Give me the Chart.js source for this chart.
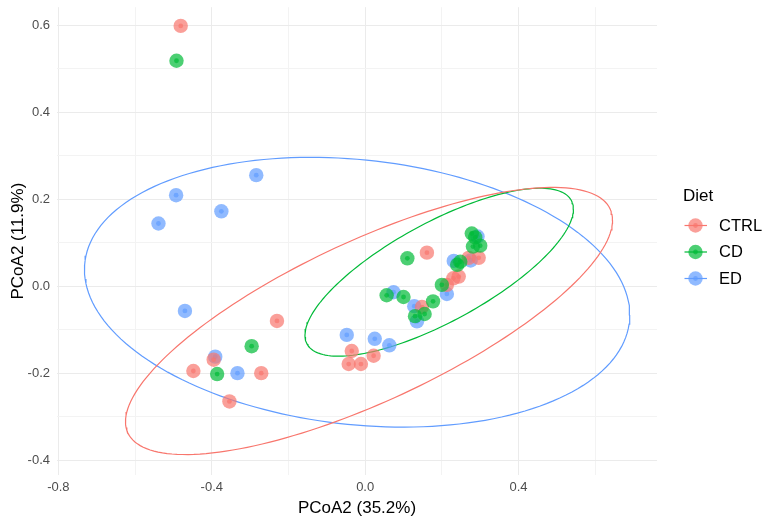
<!DOCTYPE html>
<html><head><meta charset="utf-8">
<script src="https://cdn.jsdelivr.net/npm/chart.js@4.4.0/dist/chart.umd.min.js"></script>
<style>html,body{margin:0;padding:0;background:#fff;}#wrap{width:766px;height:526px;position:relative;}</style>
</head><body><div id="wrap"><canvas id="c"></canvas></div>
<script>
// ---- data ----
const groups = ['CTRL', 'CD', 'ED'];
const groupColors = ['#F8766D', '#00BA38', '#619CFF'];

const ctrlX = [-0.481, -0.230, -0.395, -0.448, -0.271, -0.354, -0.035, -0.043, -0.011, 0.022, 0.161, 0.148, 0.213, 0.230, 0.244, 0.270, 0.296];
const ctrlY = [0.598, -0.080, -0.169, -0.195, -0.200, -0.265, -0.149, -0.179, -0.179, -0.160, 0.077, -0.048, 0.003, 0.018, 0.022, 0.065, 0.065];

const cdX = [-0.492, -0.296, -0.386, 0.056, 0.100, 0.110, 0.130, 0.155, 0.177, 0.200, 0.240, 0.248, 0.278, 0.287, 0.281, 0.300];
const cdY = [0.518, -0.138, -0.202, -0.021, -0.025, 0.064, -0.069, -0.064, -0.035, 0.003, 0.049, 0.056, 0.121, 0.112, 0.091, 0.093];

const edX = [-0.493, -0.539, -0.375, -0.284, -0.470, -0.391, -0.333, -0.048, 0.025, 0.063, 0.074, 0.128, 0.135, 0.213, 0.231, 0.275, 0.293];
const edY = [0.209, 0.144, 0.172, 0.255, -0.057, -0.162, -0.200, -0.112, -0.121, -0.136, -0.014, -0.046, -0.081, -0.018, 0.058, 0.059, 0.114];

// 95% ellipses (centre, half-width, half-height, correlation), per group
const ellipseCx = [0.010, 0.193, -0.021];
const ellipseCy = [-0.080, 0.032, -0.014];
const ellipseHalfW = [0.635, 0.350, 0.711];
const ellipseHalfH = [0.307, 0.193, 0.310];
const ellipseRho = [0.754, 0.750, -0.168];

// axis ticks
const xMajorTicks = [-0.8, -0.4, 0.0, 0.4];
const yMajorTicks = [-0.4, -0.2, 0.0, 0.2, 0.4, 0.6];

// ---- build ----
const xs = [ctrlX, cdX, edX];
const ys = [ctrlY, cdY, edY];
function pts(i) { return xs[i].map((x, k) => ({ x: x, y: ys[i][k] })); }
function ellipse(i) {
  const out = [];
  const n = 180;
  const r = ellipseRho[i], s = Math.sqrt(1 - r * r);
  for (let k = 0; k <= n; k++) {
    const t = 2 * Math.PI * k / n;
    out.push({
      x: ellipseCx[i] + ellipseHalfW[i] * Math.cos(t),
      y: ellipseCy[i] + ellipseHalfH[i] * (r * Math.cos(t) + s * Math.sin(t))
    });
  }
  return out;
}
function rgba(hex, a) {
  const n = parseInt(hex.slice(1), 16);
  return `rgba(${(n >> 16) & 255},${(n >> 8) & 255},${n & 255},${a})`;
}
const ALPHA = 0.7;
const datasets = [];
groups.forEach((g, i) => {
  datasets.push({
    label: g + ' ellipse', data: ellipse(i), showLine: true, borderColor: groupColors[i],
    borderWidth: 1.2, pointRadius: 0, fill: false, order: 100 + i, tension: 0
  });
});
const drawRank = [1, 0, 2];
groups.forEach((g, i) => {
  datasets.push({
    label: g, data: pts(i), showLine: false, pointRadius: 7.2, pointHoverRadius: 7.2,
    backgroundColor: rgba(groupColors[i], ALPHA), borderWidth: 0, order: 10 + drawRank[i] * 2 + 1
  });
  datasets.push({
    label: g + ' centre', data: pts(i), showLine: false, pointRadius: 2.4, pointHoverRadius: 2.4,
    backgroundColor: rgba(groupColors[i], ALPHA), borderWidth: 0, order: 10 + drawRank[i] * 2
  });
});

const FONT = "'Liberation Sans', Arial, Helvetica, sans-serif";
const legendPlugin = {
  id: 'ggLegend',
  afterDraw(chart) {
    const ctx = chart.ctx;
    ctx.save();
    ctx.fillStyle = '#000';
    ctx.font = `17px ${FONT}`;
    ctx.textAlign = 'left';
    ctx.textBaseline = 'middle';
    ctx.fillText('Diet', 683, 196);
    groups.forEach((g, i) => {
      const y = 225.5 + i * 26.5;
      const cx = 695.5;
      ctx.strokeStyle = groupColors[i];
      ctx.lineWidth = 1.2;
      ctx.beginPath(); ctx.moveTo(684.5, y); ctx.lineTo(707, y); ctx.stroke();
      ctx.fillStyle = rgba(groupColors[i], ALPHA);
      ctx.beginPath(); ctx.arc(cx, y, 7.2, 0, Math.PI * 2); ctx.fill();
      ctx.beginPath(); ctx.arc(cx, y, 2.4, 0, Math.PI * 2); ctx.fill();
      ctx.fillStyle = '#000';
      ctx.font = `16.5px ${FONT}`;
      ctx.fillText(g, 719, y + 0.5);
    });
    ctx.restore();
  }
};

function isMajor(v, list) { return list.some(m => Math.abs(m - v) < 1e-6); }
function noPad(s) { s.paddingTop = 0; s.paddingBottom = 0; s.paddingLeft = 0; s.paddingRight = 0; }

new Chart(document.getElementById('c'), {
  type: 'scatter',
  data: { datasets },
  options: {
    responsive: true, maintainAspectRatio: false, animation: false,
    layout: { padding: { top: 4, right: 109, left: 0, bottom: 0 } },
    plugins: { legend: { display: false }, tooltip: { enabled: false } },
    scales: {
      x: {
        type: 'linear', min: -0.8036, max: 0.761,
        afterFit(s) { s.height = 51; noPad(s); },
        border: { display: false },
        grid: {
          drawTicks: false,
          color: c => isMajor(c.tick.value, xMajorTicks) ? '#EBEBEB' : '#F3F3F3',
          lineWidth: 1
        },
        ticks: {
          stepSize: 0.2, includeBounds: false, padding: 5, maxRotation: 0, autoSkip: false,
          color: '#4D4D4D', font: { family: FONT, size: 13 },
          callback: v => isMajor(v, xMajorTicks) ? v.toFixed(1) : ''
        },
        title: { display: true, text: 'PCoA2 (35.2%)', color: '#000', font: { family: FONT, size: 17 }, padding: { top: 0, bottom: 7 } }
      },
      y: {
        type: 'linear', min: -0.434, max: 0.641,
        afterFit(s) { s.width = 57; noPad(s); },
        border: { display: false },
        grid: {
          drawTicks: false,
          color: c => isMajor(c.tick.value, yMajorTicks) ? '#EBEBEB' : '#F3F3F3',
          lineWidth: 1
        },
        ticks: {
          stepSize: 0.1, includeBounds: false, padding: 7, autoSkip: false,
          color: '#4D4D4D', font: { family: FONT, size: 13 },
          callback: v => isMajor(v, yMajorTicks) ? v.toFixed(1) : ''
        },
        title: { display: true, text: 'PCoA2 (11.9%)', color: '#000', font: { family: FONT, size: 17 }, padding: { top: 8, bottom: 0 } }
      }
    }
  },
  plugins: [legendPlugin]
});
</script></body></html>
